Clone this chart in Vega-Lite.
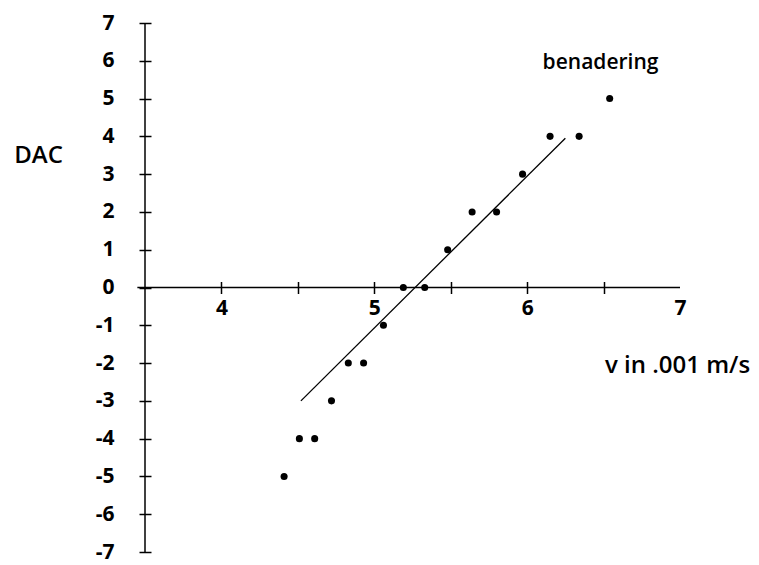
{
  "$schema": "https://vega.github.io/schema/vega-lite/v6.json",
  "width": 535,
  "height": 529,
  "autosize": "none",
  "padding": {"left": 145, "top": 23, "right": 79, "bottom": 13},
  "background": "white",
  "config": {
    "view": {"stroke": null},
    "font": "Open Sans",
    "axis": {"grid": false, "domain": false, "tickColor": "black", "tickWidth": 1.5, "labelColor": "black", "titleColor": "black"}
  },
  "datasets": {
    "meting": [
      {"v": 4.41, "dac": -5},
      {"v": 4.51, "dac": -4},
      {"v": 4.61, "dac": -4},
      {"v": 4.72, "dac": -3},
      {"v": 4.83, "dac": -2},
      {"v": 4.93, "dac": -2},
      {"v": 5.06, "dac": -1},
      {"v": 5.19, "dac": 0},
      {"v": 5.33, "dac": 0},
      {"v": 5.48, "dac": 1},
      {"v": 5.64, "dac": 2},
      {"v": 5.80, "dac": 2},
      {"v": 5.97, "dac": 3},
      {"v": 6.15, "dac": 4},
      {"v": 6.34, "dac": 4},
      {"v": 6.54, "dac": 5}
    ],
    "benadering": [
      {"v": 4.52, "dac": -3.0},
      {"v": 6.25, "dac": 3.95}
    ],
    "assen": [
      {"v": 3.5, "v2": 3.5, "dac": -7, "dac2": 7},
      {"v": 3.45, "v2": 7, "dac": 0, "dac2": 0}
    ]
  },
  "layer": [
    {
      "data": {"name": "assen"},
      "mark": {"type": "rule", "color": "black", "strokeWidth": 1.5},
      "encoding": {
        "x": {
          "field": "v", "type": "quantitative",
          "scale": {"domain": [3.5, 7], "nice": false, "zero": false},
          "axis": {
            "orient": "bottom",
            "offset": -270.5,
            "values": [4, 4.5, 5, 5.5, 6, 6.5, 7],
            "tickCount": 20,
            "tickSize": 12,
            "tickOpacity": {"condition": {"test": "datum.value == 7", "value": 0}, "value": 1},
            "labelExpr": "datum.value % 1 == 0 ? format(datum.value, 'd') : ''",
            "labelOverlap": false, "labelBound": false, "labelFlush": false,
            "labelFont": "Open Sans", "labelFontWeight": 700, "labelFontSize": 21,
            "labelPadding": 4,
            "title": "v in .001 m/s",
            "titleFont": "Open Sans", "titleFontWeight": 600, "titleFontSize": 24,
            "titleAlign": "center", "titleBaseline": "middle",
            "titleX": 532, "titleY": 83.5
          }
        },
        "x2": {"field": "v2"},
        "y": {
          "field": "dac", "type": "quantitative",
          "scale": {"domain": [-7, 7], "nice": false},
          "axis": {
            "orient": "left",
            "offset": -6,
            "values": [-7, -6, -5, -4, -3, -2, -1, 0, 1, 2, 3, 4, 5, 6, 7],
            "tickCount": 20,
            "tickSize": 12,
            "labelExpr": "(datum.value < 0 ? '-' : '') + abs(datum.value)",
            "labelOverlap": false, "labelBound": false, "labelFlush": false,
            "labelFont": "Open Sans", "labelFontWeight": 700, "labelFontSize": 21,
            "labelPadding": 25,
            "title": "DAC",
            "titleFont": "Open Sans", "titleFontWeight": 600, "titleFontSize": 24,
            "titleAngle": 0, "titleAlign": "center", "titleBaseline": "middle",
            "titleX": -113, "titleY": 132
          }
        },
        "y2": {"field": "dac2"}
      }
    },
    {
      "data": {"name": "benadering"},
      "mark": {"type": "line", "color": "black", "strokeWidth": 1.3},
      "encoding": {
        "x": {"field": "v", "type": "quantitative"},
        "y": {"field": "dac", "type": "quantitative"}
      }
    },
    {
      "data": {"name": "meting"},
      "mark": {"type": "circle", "color": "black", "opacity": 1, "size": 50},
      "encoding": {
        "x": {"field": "v", "type": "quantitative"},
        "y": {"field": "dac", "type": "quantitative"}
      }
    },
    {
      "data": {"values": [{"v": 6.48, "dac": 5.95, "tekst": "benadering"}]},
      "mark": {"type": "text", "font": "Open Sans", "fontWeight": 600, "fontSize": 21, "color": "black", "align": "center", "baseline": "middle"},
      "encoding": {
        "x": {"field": "v", "type": "quantitative"},
        "y": {"field": "dac", "type": "quantitative"},
        "text": {"field": "tekst"}
      }
    }
  ]
}
